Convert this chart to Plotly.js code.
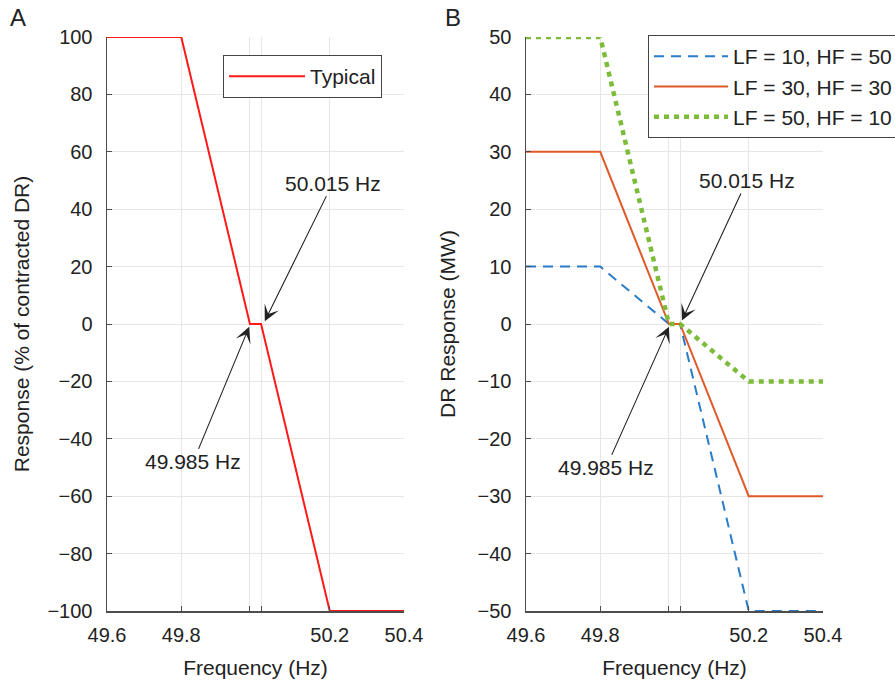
<!DOCTYPE html>
<html>
<head>
<meta charset="utf-8">
<script src="https://cdn.plot.ly/plotly-3.0.1.min.js"></script>
<style>html,body{margin:0;padding:0;background:#fff;}#chart{width:895px;height:687px;}</style>
</head>
<body>
<div id="chart"></div>
<script>
// Data
var freq = [49.6, 49.8, 49.985, 50.015, 50.2, 50.4];
var typical = [100, 100, 0, 0, -100, -100];
var lf10hf50 = [10, 10, 0, 0, -50, -50];
var lf30hf30 = [30, 30, 0, 0, -30, -30];
var lf50hf10 = [50, 50, 0, 0, -10, -10];
var xTickVals = [49.6, 49.8, 49.985, 50.015, 50.2, 50.4];
var xTickText = ['49.6', '49.8', '', '', '50.2', '50.4'];
var yTickA = [-100, -80, -60, -40, -20, 0, 20, 40, 60, 80, 100];
var yTickB = [-50, -40, -30, -20, -10, 0, 10, 20, 30, 40, 50];

var FONT = 'Liberation Sans, Arial, sans-serif';
var AX = '#4d4d4d';
var GRID = '#e6e6e6';
var TXT = '#222';

var traces = [
  {x: freq, y: typical, xaxis: 'x', yaxis: 'y', mode: 'lines', name: 'Typical',
   line: {color: '#ff1a1a', width: 2}, legend: 'legend'},
  {x: freq, y: lf10hf50, xaxis: 'x2', yaxis: 'y2', mode: 'lines', name: 'LF = 10, HF = 50',
   line: {color: '#2a7bc8', width: 2, dash: '10px,7px'}, legend: 'legend2'},
  {x: freq, y: lf30hf30, xaxis: 'x2', yaxis: 'y2', mode: 'lines', name: 'LF = 30, HF = 30',
   line: {color: '#e0592a', width: 2}, legend: 'legend2'},
  {x: freq, y: lf50hf10, xaxis: 'x2', yaxis: 'y2', mode: 'lines', name: 'LF = 50, HF = 10',
   line: {color: '#7dbb3a', width: 4.5, dash: '5px,5px'}, legend: 'legend2'}
];

function xax(domain, anchor) {
  return {domain: domain, anchor: anchor, range: [49.6, 50.4], tickmode: 'array',
    tickvals: xTickVals, ticktext: xTickText, ticks: 'inside', ticklen: 5, tickcolor: AX,
    showline: true, linecolor: AX, linewidth: 1.5, showgrid: true, gridcolor: GRID, gridwidth: 1,
    zeroline: false, tickfont: {family: FONT, size: 20, color: TXT},
    ticklabelstandoff: 5,
    title: {text: 'Frequency (Hz)', font: {family: FONT, size: 21, color: TXT}, standoff: 16}};
}
function yax(domain, anchor, range, vals, title, standoff) {
  return {domain: domain, anchor: anchor, range: range, tickmode: 'array', tickvals: vals,
    ticks: 'inside', ticklen: 5, tickcolor: AX, showline: true, linecolor: AX, linewidth: 1.5,
    showgrid: true, gridcolor: GRID, gridwidth: 1, zeroline: false,
    tickfont: {family: FONT, size: 20, color: TXT}, ticklabelstandoff: 9,
    title: {text: title, font: {family: FONT, size: 21, color: TXT}, standoff: standoff}};
}

var yd = [76/687, 650/687];
var layout = {
  width: 895, height: 687, margin: {l: 0, r: 0, t: 0, b: 0, autoexpand: false},
  paper_bgcolor: '#fff', plot_bgcolor: '#fff', font: {family: FONT, size: 20, color: TXT},
  xaxis: xax([107/895, 404/895], 'y'),
  yaxis: yax(yd, 'x', [-100, 100], yTickA, 'Response (% of contracted DR)', 12),
  xaxis2: xax([526/895, 823/895], 'y2'),
  yaxis2: yax(yd, 'x2', [-50, 50], yTickB, 'DR Response (MW)', 16),
  legend: {x: 223/895, y: 1 - 55/687, xanchor: 'left', yanchor: 'top', xref: 'paper', yref: 'paper',
    bgcolor: '#fff', bordercolor: '#444', borderwidth: 1, itemwidth: 76,
    font: {family: FONT, size: 21, color: TXT}},
  legend2: {x: 648/895, y: 1 - 35/687, xanchor: 'left', yanchor: 'top', xref: 'paper', yref: 'paper',
    bgcolor: '#fff', bordercolor: '#444', borderwidth: 1, itemwidth: 74,
    font: {family: FONT, size: 21, color: TXT}},
  showlegend: true,
  annotations: [
    {text: 'A', xref: 'paper', yref: 'paper', x: 8/895, y: 1 - 18/687, xanchor: 'left', yanchor: 'middle',
     showarrow: false, font: {family: FONT, size: 24, color: TXT}},
    {text: 'B', xref: 'paper', yref: 'paper', x: 443/895, y: 1 - 18/687, xanchor: 'left', yanchor: 'middle',
     showarrow: false, font: {family: FONT, size: 24, color: TXT}},
    {text: '50.015 Hz', xref: 'x', yref: 'y', x: 50.025, y: 1, ax: 68, ay: -138,
     showarrow: true, arrowhead: 3, arrowsize: 2.4, arrowwidth: 1.1, arrowcolor: TXT,
     font: {family: FONT, size: 21, color: TXT}},
    {text: '49.985 Hz', xref: 'x', yref: 'y', x: 49.983, y: -1, ax: -56, ay: 135,
     showarrow: true, arrowhead: 3, arrowsize: 2.4, arrowwidth: 1.1, arrowcolor: TXT,
     font: {family: FONT, size: 21, color: TXT}},
    {text: '50.015 Hz', xref: 'x2', yref: 'y2', x: 50.02, y: 0.6, ax: 65, ay: -140,
     showarrow: true, arrowhead: 3, arrowsize: 2.4, arrowwidth: 1.1, arrowcolor: TXT,
     font: {family: FONT, size: 21, color: TXT}},
    {text: '49.985 Hz', xref: 'x2', yref: 'y2', x: 49.985, y: -0.5, ax: -63, ay: 141,
     showarrow: true, arrowhead: 3, arrowsize: 2.4, arrowwidth: 1.1, arrowcolor: TXT,
     font: {family: FONT, size: 21, color: TXT}}
  ]
};

Plotly.newPlot('chart', traces, layout, {displayModeBar: false, staticPlot: true});
</script>
</body>
</html>
